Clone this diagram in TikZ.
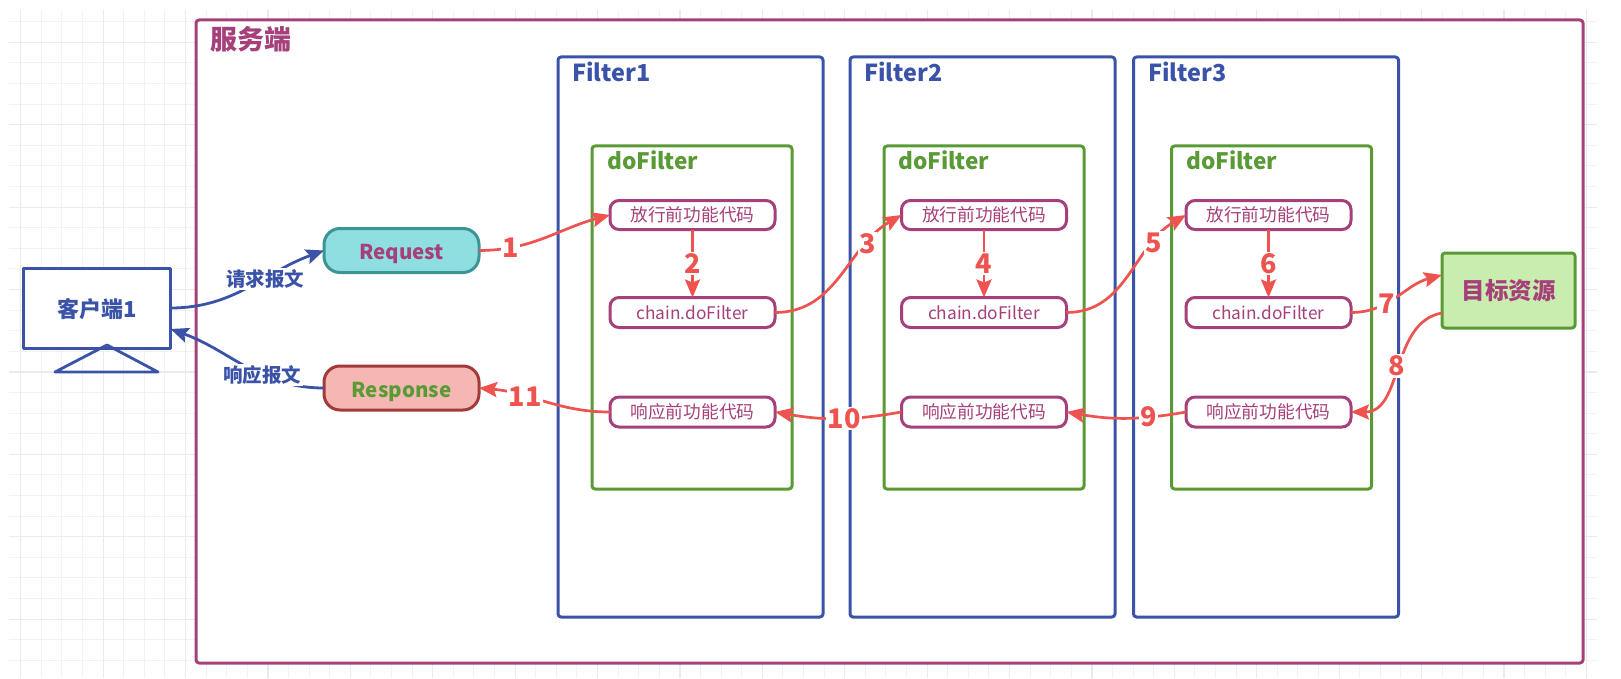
\documentclass[tikz,border=0pt]{standalone}
\usepackage{fontspec}
\setmainfont{Noto Sans CJK SC}
\usetikzlibrary{arrows.meta}
\definecolor{plum}{HTML}{A5407A}
\definecolor{navy}{HTML}{3A53A8}
\definecolor{leaf}{HTML}{5A9A35}
\definecolor{flow}{HTML}{EE5350}
\definecolor{reqfill}{HTML}{90DFE0}
\definecolor{reqline}{HTML}{3B9595}
\definecolor{respfill}{HTML}{F5B7B3}
\definecolor{respline}{HTML}{A33A3A}
\definecolor{srcfill}{HTML}{C8EDAE}
\tikzset{
	box/.style={draw,rectangle,rounded corners=3pt,line width=3pt,outer sep=0pt,fill=white,inner sep=0pt},
	code/.style={box,draw=plum,text=plum,rounded corners=9pt,minimum width=165pt,minimum height=29pt,font=\fontsize{17.7}{20}\selectfont},
	title/.style={anchor=west,inner sep=0pt,font=\fontsize{23.4}{28}\selectfont\bfseries},
	pill/.style={box,rounded corners=16pt,minimum width=155pt,minimum height=44pt,text height=18.5pt,text depth=0pt,font=\fontsize{20.5}{24}\selectfont\bfseries},
	flowline/.style={->,draw=flow,line width=2.7pt},
	step num/.style={fill=white,inner sep=1.5pt,text=flow,font=\fontsize{27}{28}\selectfont\bfseries},
	msgline/.style={->,draw=navy,line width=2.8pt},
	msg/.style={fill=white,inner sep=1.5pt,text=navy,font=\fontsize{19.5}{22}\selectfont\bfseries},
}
\begin{document}
\begin{tikzpicture}[x=1pt,y=-1pt,>={Stealth[length=18pt,width=15pt,inset=3pt]},line join=round]
	\useasboundingbox (0,0) rectangle (1621,679);
	\foreach \i in {0,...,76} \draw[black!5,line width=1pt] ({20.7+\i*20.6},10)--({20.7+\i*20.6},678);
	\foreach \i in {0,...,32} \draw[black!5,line width=1pt] (9,{21.7+\i*20.6})--(1597,{21.7+\i*20.6});
	\foreach \i in {0,4,...,76} \draw[black!8,line width=1.2pt] ({20.7+\i*20.6},10)--({20.7+\i*20.6},678);
	\foreach \i in {1,5,...,32} \draw[black!8,line width=1.2pt] (9,{21.7+\i*20.6})--(1597,{21.7+\i*20.6});

	\node[box,draw=plum,minimum width=1387pt,minimum height=643pt] (server) at (889.5,341.5) {};
	\node[title,text=plum,font=\fontsize{27}{30}\selectfont\bfseries] (serverT) at (210,39) {服务端};

	\foreach \i/\fx/\dx/\cx/\tx/\ux in {1/690.5/692/692.5/572/607,2/982.5/984/984/864/898,3/1266/1271.5/1268.5/1148/1186}{
		\node[box,draw=navy,minimum width=265pt,minimum height=560pt] (F_\i) at (\fx,337) {};
		\node[title,text=navy] (FT_\i) at (\tx,72) {Filter\i};
		\node[box,draw=leaf,minimum width=200pt,minimum height=343pt] (D_\i) at (\dx,317.5) {};
		\node[title,text=leaf,font=\fontsize{22.6}{28}\selectfont\bfseries] (DT_\i) at (\ux,160) {doFilter};
		\node[code] (A_\i) at (\cx,215) {放行前功能代码};
		\node[code,minimum height=30pt,font=\fontsize{17.3}{20}\selectfont] (B_\i) at (\cx,312.5) {chain.doFilter};
		\node[code,minimum height=30pt] (C_\i) at (\cx,412) {响应前功能代码};
	}

	\node[pill,draw=reqline,fill=reqfill,text=plum] (req) at (401.5,250.5) {Request};
	\node[pill,draw=respline,fill=respfill,text=leaf] (resp) at (401.5,388) {Response};
	\node[box,draw=leaf,fill=srcfill,text=plum,minimum width=133pt,minimum height=75pt,font=\fontsize{23.5}{26}\selectfont\bfseries] (target) at (1508.5,290.5) {目标资源};
	\node[box,rounded corners=0pt,draw=navy,text=navy,minimum width=147pt,minimum height=80pt,text height=19pt,text depth=0pt,font=\fontsize{22}{24}\selectfont\bfseries] (client) at (97,308) {客户端1};
	\draw[navy,line width=2.8pt] (55,372)--(107,345)--(158,372)--cycle;

	\draw[msgline] (client.east) to[out=0,in=200] node[msg,pos=.62] {请求报文} (req.west);
	\draw[msgline] (resp.west) to[out=180,in=-20] node[msg,pos=.38] {响应报文} (client.east|-0,329);

	\coordinate (T_in) at (1442,275);
	\coordinate (T_out) at (1442,313);
	\draw[flowline] (req.east) to[out=0,in=195] node[step num,pos=.22] {1} (A_1.west);
	\draw[flowline] (B_1.east) to[out=0,in=210] node[step num,pos=.75] {3} (A_2.west);
	\draw[flowline] (B_2.east) to[out=0,in=210] node[step num,pos=.75] {5} (A_3.west);
	\draw[flowline] (B_3.east) to[out=0,in=195] node[step num,pos=.37] {7} (T_in);
	\draw[flowline] (T_out) to[out=190,in=0] node[step num,pos=.5] {8} (C_3.east);
	\foreach \i/\n in {1/2,2/4,3/6} \draw[flowline] (A_\i) -- node[step num,pos=.5] {\n} (B_\i);
	\draw[flowline] (C_3.west) to[out=190,in=-10] node[step num,pos=.3] {9} (C_2.east);
	\draw[flowline] (C_2.west) to[out=190,in=-10] node[step num,pos=.45] {10} (C_1.east);
	\draw[flowline] (C_1.west) to[out=180,in=-5] node[step num,pos=.66] {11} (resp.east);
\end{tikzpicture}
\end{document}
